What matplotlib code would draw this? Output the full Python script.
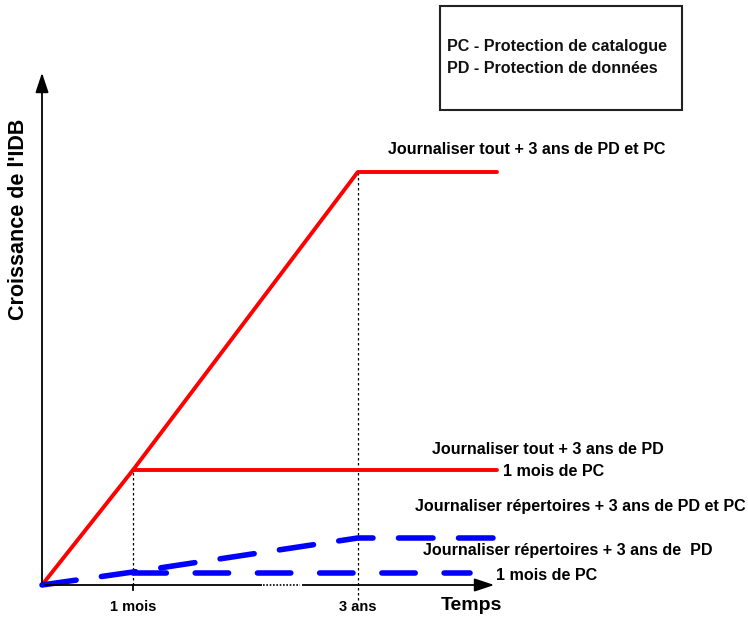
import matplotlib
matplotlib.use("Agg")
import matplotlib.pyplot as plt
from matplotlib.patches import Rectangle

# Data (arbitrary units; x: time, y: IDB growth)
tick_labels = ["1 mois", "3 ans"]
tick_pos = [1.0, 3.47]
x_end = 5.0
axis_break = [2.43, 2.84]

red_all_x = [0.0, 1.0, 3.47, 5.0]
red_all_y = [0.0, 1.15, 4.13, 4.13]
red_pd_x = [1.0, 5.0]
red_pd_y = [1.15, 1.15]
blue_all_x = [0.0, 1.0, 3.47, 5.0]
blue_all_y = [0.0, 0.13, 0.47, 0.47]
blue_pd_x = [1.0, 4.70]
blue_pd_y = [0.12, 0.12]

W, H = 748, 618
fig = plt.figure(figsize=(W / 100, H / 100), dpi=100)
ax = fig.add_axes([0, 0, 1, 1])
ax.set_xlim(-42 / 91, (W - 42) / 91)
ax.set_ylim(-(H - 585) / 100, 585 / 100)
ax.axis("off")

SANS = ["Liberation Sans", "DejaVu Sans"]

# axes arrows
ax.annotate("", xy=(x_end, 0), xytext=(0, 0),
            arrowprops=dict(arrowstyle="-|>,head_length=1.2,head_width=0.4", color="black", lw=1.3))
ax.annotate("", xy=(0, 5.15), xytext=(0, 0),
            arrowprops=dict(arrowstyle="-|>,head_length=1.2,head_width=0.4", color="black", lw=1.3))
# dotted break on the time axis
ax.plot(axis_break, [0, 0], color="white", lw=2.2, zorder=3)
ax.plot(axis_break, [0, 0], color="black", lw=1.2, ls=(0, (1, 1)), zorder=4)

# dotted guides
ax.plot([tick_pos[0], tick_pos[0]], [0, red_all_y[1]], color="black", lw=0.9, ls=(0, (2, 2)))
ax.plot([tick_pos[1], tick_pos[1]], [-0.15, red_all_y[2]], color="black", lw=0.9, ls=(0, (2, 2)))
ax.plot([tick_pos[0], tick_pos[0]], [0, -0.05], color="black", lw=1.3)

# series
ax.plot(red_all_x, red_all_y, color="#ff0000", lw=2.8, solid_capstyle="round")
ax.plot(red_pd_x, red_pd_y, color="#ff0000", lw=2.8, solid_capstyle="round")
ax.plot(blue_all_x, blue_all_y, color="#0000ff", lw=4, ls=(0, (6.2, 4.6)), dash_capstyle="round")
ax.plot(blue_pd_x, blue_pd_y, color="#0000ff", lw=4, ls=(0, (6.0, 5.2)), dash_capstyle="round")

# tick labels
for p, t in zip(tick_pos, tick_labels):
    ax.text(p, -0.22, t, ha="center", va="center", fontsize=10.5, fontweight="bold", family=SANS)
ax.text(4.72, -0.2, "Temps", ha="center", va="center", fontsize=14, fontweight="bold", family=SANS)
ax.text(-0.26, 3.66, "Croissance de l'IDB", rotation=90, ha="center", va="center",
        fontsize=15.5, fontweight="bold", family=SANS)

# annotations
def px(x, y):
    return ((x - 42) / 91, (585 - y) / 100)

FS = 11.6
ax.text(*px(388, 150), "Journaliser tout + 3 ans de PD et PC", ha="left", va="center",
        fontsize=FS, fontweight="bold", family=SANS)
ax.text(*px(432, 450), "Journaliser tout + 3 ans de PD", ha="left", va="center",
        fontsize=FS, fontweight="bold", family=SANS)
ax.text(*px(503, 472), "1 mois de PC", ha="left", va="center",
        fontsize=FS, fontweight="bold", family=SANS)
ax.text(*px(415, 507), "Journaliser répertoires + 3 ans de PD et PC", ha="left", va="center",
        fontsize=FS, fontweight="bold", family=SANS)
ax.text(*px(423, 551), "Journaliser répertoires + 3 ans de  PD", ha="left", va="center",
        fontsize=FS, fontweight="bold", family=SANS)
ax.text(*px(496, 575), "1 mois de PC", ha="left", va="center",
        fontsize=FS, fontweight="bold", family=SANS)

# legend box
x0, y0 = px(440, 110)
x1, y1 = px(682, 6)
ax.add_patch(Rectangle((x0, y0), x1 - x0, y1 - y0, fill=False, edgecolor="#222222", lw=1.5))
ax.text(*px(447, 47), "PC - Protection de catalogue", ha="left", va="center",
        fontsize=11.6, fontweight="bold", family=SANS, color="#111111")
ax.text(*px(447, 69), "PD - Protection de données", ha="left", va="center",
        fontsize=11.6, fontweight="bold", family=SANS, color="#111111")

fig.savefig("out.png", dpi=100)
